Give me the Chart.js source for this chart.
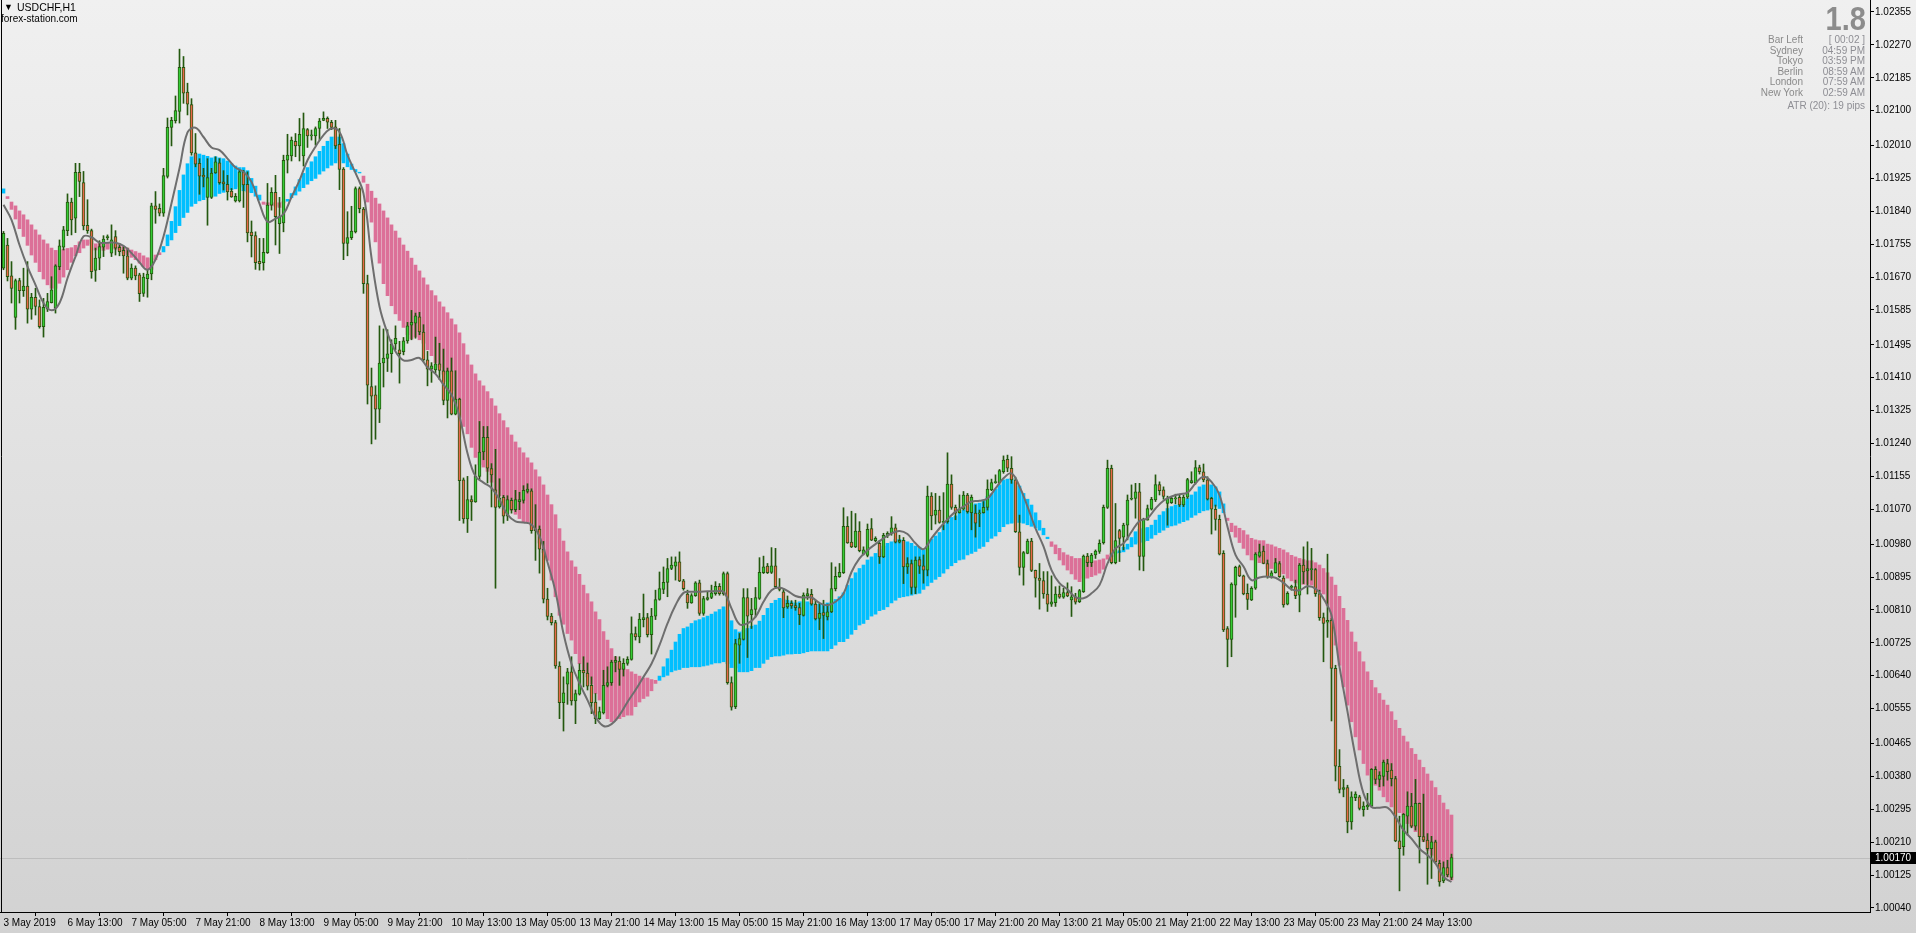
<!DOCTYPE html>
<html>
<head>
<meta charset="utf-8">
<title>USDCHF,H1</title>
<script src="https://cdn.jsdelivr.net/npm/chart.js@4.4.0/dist/chart.umd.min.js"></script>
<style>
  html, body { margin: 0; padding: 0; }
  body {
    width: 1916px; height: 933px; overflow: hidden; position: relative;
    background: linear-gradient(to bottom, #f0f0f0 0%, #d2d2d2 100%);
    font-family: "Liberation Sans", Arial, sans-serif;
  }
  #chart { position: absolute; left: 0; top: 0; }
  .t { position: absolute; font-size: 10px; line-height: 11px; white-space: nowrap; }
  .lbl { right: 113px; color: #8a8a8a; text-align: right; }
  .val { right: 51px; color: #8e8e94; text-align: right; }
</style>
</head>
<body>
<canvas id="chart" width="1916" height="933"></canvas>

<div class="t" style="left:4px;top:2px;color:#000;font-size:9px">&#9660;</div>
<div class="t" style="left:17px;top:2px;color:#000;font-size:10.5px">USDCHF,H1</div>
<div class="t" style="left:1px;top:13px;color:#000">forex-station.com</div>

<div class="t" style="right:50px;top:2px;font-size:33px;line-height:33px;font-weight:bold;color:#8c8c8c;transform:scaleX(0.88);transform-origin:right top">1.8</div>
<div class="t lbl" style="top:34px">Bar Left</div><div class="t val" style="top:34px">[ 00:02 ]</div>
<div class="t lbl" style="top:45px">Sydney</div><div class="t val" style="top:45px">04:59 PM</div>
<div class="t lbl" style="top:55px">Tokyo</div><div class="t val" style="top:55px">03:59 PM</div>
<div class="t lbl" style="top:66px">Berlin</div><div class="t val" style="top:66px">08:59 AM</div>
<div class="t lbl" style="top:76px">London</div><div class="t val" style="top:76px">07:59 AM</div>
<div class="t lbl" style="top:87px">New York</div><div class="t val" style="top:87px">02:59 AM</div>
<div class="t val" style="top:100px">ATR (20): 19 pips</div>

<script>
// all prices in pips above 1.00000, one entry per H1 bar (3 May 21:00 .. 24 May 23:00)
const opens = [
  169.3,175.3,167.3,156.6,166.1,163.5,164.7,158.7,161.8,159.4,
  154.2,158.7,160.4,159.0,169.7,174.7,179.0,186.4,182.2,194.1,
  191.4,180.4,179.0,168.7,171.9,174.7,177.2,173.2,177.5,174.7,
  173.9,172.5,166.7,169.3,167.6,162.8,166.6,167.8,185.4,184.8,
  183.5,193.0,205.7,207.4,209.8,221.2,214.8,211.6,199.1,196.4,
  193.3,187.6,187.6,193.9,196.5,191.6,191.0,189.2,186.7,186.7,
  194.2,191.0,178.6,177.7,171.1,170.7,173.3,185.6,188.9,180.8,
  181.0,197.2,198.3,202.1,200.9,198.3,205.1,203.5,203.5,205.4,
  207.5,208.0,207.0,205.8,201.3,194.9,175.7,177.2,178.7,189.9,
  184.6,165.3,138.7,136.6,132.9,144.8,146.0,147.2,149.7,148.2,
  147.7,150.5,154.6,155.1,156.7,152.8,145.6,143.2,143.0,144.6,
  142.8,135.1,142.8,131.6,135.5,114.6,104.5,109.5,108.9,115.5,
  121.8,125.6,117.5,112.0,107.6,110.1,105.2,109.3,106.9,109.0,
  109.3,111.6,111.8,101.9,101.9,96.7,83.8,79.4,77.7,66.5,
  57.0,61.8,65.0,57.5,59.2,65.4,64.7,61.5,57.2,52.9,
  54.4,61.5,62.2,67.4,67.8,65.6,67.2,68.2,74.9,74.0,
  78.5,79.0,74.6,79.4,83.7,86.3,88.1,91.7,92.3,93.4,
  88.5,85.1,82.8,84.7,88.0,80.1,83.7,84.2,85.2,87.1,
  85.2,90.4,62.2,56.0,71.9,73.4,84.2,79.8,81.1,84.0,
  90.6,92.3,90.7,92.4,86.8,85.7,81.8,82.7,82.1,81.6,
  79.6,84.6,85.0,82.5,78.8,80.3,79.2,80.5,86.5,89.6,
  90.6,102.6,98.5,97.3,101.4,95.4,95.1,102.0,98.9,98.2,
  94.7,100.1,100.8,102.2,98.5,99.0,92.1,93.0,86.8,94.0,
  92.4,91.3,110.4,105.5,106.8,103.6,103.8,113.5,107.5,106.1,
  107.0,110.7,106.1,106.0,105.8,106.1,107.5,112.0,113.9,113.9,
  116.7,119.9,117.6,114.6,101.2,92.0,95.6,98.8,91.2,89.2,
  88.6,85.1,82.5,82.9,85.1,84.3,85.5,83.6,84.4,83.1,
  85.7,94.9,93.2,95.2,96.1,98.4,107.5,117.6,93.2,101.5,
  99.8,102.9,109.6,109.8,111.5,94.8,104.2,107.0,109.4,113.4,
  112.0,108.5,108.7,109.7,110.1,108.1,110.1,113.9,113.9,117.8,
  116.7,114.6,109.8,107.0,104.4,95.6,76.2,73.4,87.4,92.2,
  89.8,85.3,83.6,86.6,94.9,96.2,93.0,89.6,90.6,93.0,
  89.2,82.5,86.8,87.0,84.8,92.6,91.1,91.4,91.4,85.2,
  79.0,77.8,78.3,65.9,40.6,34.6,35.1,26.2,32.5,32.7,
  29.4,30.1,30.3,39.8,37.2,38.0,41.3,39.6,37.4,21.3,
  19.8,27.7,30.3,25.1,31.0,22.4,21.5,19.3,21.1,15.5,
  11.0,14.4,11.9
];
const highs = [
  178.8,177.0,171.0,166.5,166.7,169.3,171.0,162.8,164.1,161.1,
  161.5,162.8,167.1,170.2,176.6,180.1,188.5,187.4,196.4,196.4,
  194.3,187.0,179.4,174.5,176.4,177.7,177.9,180.5,179.0,175.6,
  174.9,174.5,170.4,169.9,168.0,168.0,168.9,186.1,189.1,185.9,
  195.1,208.1,208.3,213.8,225.9,224.0,217.1,213.1,204.1,197.6,
  195.1,197.6,195.1,198.1,197.6,194.5,193.3,189.9,188.6,194.6,
  194.6,194.2,181.5,178.7,177.0,177.0,191.2,190.1,193.3,187.6,
  198.5,203.9,203.2,204.1,208.0,209.4,205.4,205.0,205.8,208.0,
  209.7,208.4,207.5,207.5,205.4,195.3,183.9,185.3,190.3,190.3,
  185.0,167.5,143.5,138.9,154.4,153.6,153.4,150.8,154.4,150.4,
  151.4,155.3,158.4,157.7,157.9,154.7,147.8,144.9,151.5,149.9,
  148.4,143.5,146.1,142.8,135.7,115.1,115.5,110.5,118.5,129.7,
  128.4,128.4,118.8,122.5,114.9,110.6,110.5,109.9,111.9,111.4,
  113.1,113.6,112.3,108.2,102.7,98.7,86.6,80.1,78.3,67.6,
  63.7,65.9,68.9,60.3,67.1,68.9,67.3,63.7,59.4,55.9,
  65.4,66.3,68.0,69.0,68.9,68.4,68.9,79.2,76.6,80.1,
  85.1,80.1,81.4,86.1,90.8,92.1,94.3,94.7,94.7,96.0,
  88.9,86.1,85.2,88.3,88.7,84.5,85.7,87.4,88.3,87.8,
  90.8,90.8,63.7,73.4,74.9,86.5,86.5,84.0,86.8,94.5,
  94.9,93.0,97.1,96.9,89.1,86.5,84.6,83.4,83.5,82.7,
  85.4,86.5,86.3,83.5,82.7,83.5,82.5,93.2,92.1,93.0,
  107.4,105.1,106.5,105.9,103.8,97.3,103.2,104.6,99.9,99.0,
  100.8,101.2,105.1,103.2,100.3,99.7,94.5,93.9,94.7,94.7,
  95.2,113.0,111.3,111.1,110.4,111.3,121.6,115.9,108.1,110.7,
  111.6,111.1,110.7,108.1,106.8,109.0,114.6,114.8,115.9,117.3,
  120.8,121.0,120.6,115.3,105.5,96.1,99.3,99.5,91.3,93.0,
  90.9,90.9,89.8,87.0,87.2,86.6,88.0,87.0,85.3,86.3,
  95.2,95.6,95.6,96.5,99.1,108.1,119.7,118.4,108.5,101.8,
  103.4,110.7,113.3,113.7,113.7,104.7,108.1,110.1,115.9,114.1,
  112.8,110.4,110.3,110.9,110.7,110.7,115.0,116.7,119.6,118.4,
  118.7,115.4,110.1,108.1,105.5,96.3,76.7,88.0,92.3,92.6,
  90.0,87.7,87.0,95.8,98.0,97.5,93.9,91.1,94.3,93.5,
  89.8,85.7,87.4,88.7,93.0,97.3,98.6,96.9,91.7,86.1,
  80.2,95.4,78.8,66.7,44.9,37.2,35.7,34.0,34.0,33.1,
  31.4,33.6,40.0,40.5,39.2,42.2,42.4,41.3,38.0,27.7,
  28.4,34.0,33.6,37.2,31.1,33.4,23.2,22.5,21.5,16.3,
  15.9,16.3,17.9
];
const lows = [
  168.9,166.0,160.3,153.5,160.3,162.0,155.1,156.1,157.2,153.8,
  151.5,158.1,160.3,157.7,168.9,174.0,177.7,177.9,178.5,187.8,
  179.2,178.3,166.7,165.9,168.9,172.3,176.6,172.3,172.7,172.5,
  168.0,166.3,166.3,166.3,160.7,162.0,161.8,166.3,180.9,182.8,
  182.7,192.6,200.9,206.8,206.8,211.9,208.9,198.5,195.5,188.4,
  190.3,180.4,187.3,193.8,191.0,189.5,186.9,187.6,186.4,186.4,
  185.0,176.1,172.2,169.0,168.8,168.8,173.1,184.3,175.3,173.1,
  178.7,193.9,197.0,198.1,197.0,195.7,200.5,202.4,201.1,202.4,
  207.4,205.4,205.1,200.2,189.6,171.5,172.5,176.7,178.4,183.6,
  162.8,134.2,123.9,125.1,129.4,138.6,142.6,142.4,148.2,139.6,
  146.9,149.9,150.8,151.2,152.1,145.2,138.9,139.8,142.2,140.5,
  134.0,130.6,131.4,131.4,104.1,103.4,101.0,104.1,108.8,114.6,
  119.8,113.8,107.6,86.6,107.3,103.4,104.1,106.0,106.4,106.9,
  108.6,111.2,100.8,93.8,90.5,82.8,78.4,77.1,65.9,52.9,
  49.7,56.6,56.4,51.6,59.0,61.1,60.3,54.2,51.6,52.7,
  54.1,61.1,61.5,65.0,61.5,63.9,66.7,68.0,73.2,72.5,
  76.6,74.0,69.6,78.5,83.5,85.2,84.4,91.4,88.7,88.3,
  86.1,81.4,82.7,84.5,79.6,79.6,83.5,83.9,84.8,84.8,
  84.8,61.8,55.1,55.5,67.2,73.2,68.7,76.2,79.2,83.7,
  90.4,90.4,90.4,86.5,85.9,79.0,81.4,81.4,80.9,77.2,
  79.4,83.7,82.2,78.4,75.9,73.6,78.4,80.3,85.9,89.4,
  90.4,98.2,97.1,97.1,96.0,95.2,94.7,98.9,98.6,93.0,
  94.5,99.7,100.3,98.3,98.3,87.8,90.4,85.1,85.2,90.4,
  87.9,89.8,101.7,103.2,103.4,101.7,103.4,107.0,104.3,106.0,
  106.8,106.0,101.7,99.8,102.5,106.0,106.8,111.8,113.7,113.5,
  116.3,116.7,113.7,101.0,90.0,87.4,95.5,90.9,84.3,81.2,
  84.0,80.6,81.9,81.9,84.0,84.0,84.4,79.3,82.5,82.9,
  85.5,92.2,92.2,94.3,95.6,98.0,107.2,92.9,92.9,93.5,
  96.5,99.1,109.4,104.7,91.3,91.1,104.2,106.8,109.0,110.7,
  109.6,102.9,108.5,108.4,107.7,107.7,109.8,113.7,113.5,116.1,
  114.1,109.4,100.6,101.6,95.2,75.4,66.3,68.9,79.1,89.6,
  84.9,81.1,83.4,86.3,94.6,92.9,89.2,89.2,90.5,89.4,
  81.7,82.3,86.1,83.9,80.5,87.8,85.1,88.7,84.5,78.3,
  67.6,73.9,52.3,36.8,33.7,32.7,23.4,24.3,31.7,29.3,
  27.7,29.4,30.1,36.1,35.3,35.5,37.0,35.5,21.1,8.4,
  17.6,22.8,24.7,24.1,15.6,21.1,10.1,11.6,15.5,9.6,
  10.5,12.0,11.3
];
const closes = [
  178.3,167.1,164.1,166.1,163.5,164.7,158.7,161.8,159.4,154.2,
  159.2,160.7,163.7,169.9,175.1,179.2,186.4,181.8,194.1,191.7,
  180.2,179.0,168.4,171.9,174.9,176.8,177.5,176.6,174.5,173.6,
  172.5,166.7,169.3,167.3,162.7,167.0,167.8,185.4,184.5,183.5,
  193.2,205.7,207.5,210.0,221.2,214.5,211.7,199.1,196.2,193.1,
  192.9,192.7,193.9,196.8,191.4,191.1,189.0,187.7,187.9,194.2,
  190.8,178.4,177.7,170.7,170.5,173.4,185.6,188.9,182.6,182.6,
  197.2,198.5,202.4,200.9,203.9,205.4,203.5,203.7,205.4,207.3,
  208.0,207.0,205.7,200.9,194.8,175.7,177.2,178.9,189.9,184.7,
  165.3,139.1,136.2,132.9,144.8,146.1,147.2,149.7,151.2,147.2,
  150.5,154.4,155.3,157.0,152.8,145.6,143.2,144.1,144.6,142.9,
  135.1,142.8,131.6,135.5,114.4,104.5,109.5,108.9,115.5,121.8,
  125.6,117.6,115.9,107.5,109.9,105.2,109.5,106.9,109.5,109.5,
  111.9,112.2,101.5,101.5,96.7,83.8,79.3,77.7,66.5,57.0,
  59.6,65.0,57.5,59.4,65.4,64.7,61.3,57.0,52.9,54.7,
  61.5,62.2,67.5,68.0,65.6,67.2,68.2,74.9,74.0,78.6,
  79.0,74.6,79.4,83.7,86.5,88.1,91.7,92.6,93.4,88.5,
  86.5,82.8,84.7,88.0,80.1,83.9,84.2,85.4,87.1,85.2,
  90.4,62.2,55.9,72.3,73.6,84.2,79.4,81.1,84.2,90.7,
  92.1,90.6,92.4,87.0,86.3,81.5,82.7,82.0,81.6,79.8,
  84.8,85.2,82.5,78.7,80.1,79.6,80.5,86.5,89.7,90.7,
  102.6,98.3,97.3,101.4,96.3,96.5,101.8,99.0,99.5,94.7,
  100.3,100.8,102.2,98.5,99.0,92.1,93.0,86.8,93.9,92.3,
  91.3,110.4,105.3,106.8,103.6,103.8,113.5,107.5,106.0,107.0,
  110.7,106.4,110.1,103.4,106.1,107.5,112.2,113.9,114.1,117.0,
  119.7,117.6,114.6,101.2,92.0,95.8,98.8,91.2,89.2,88.6,
  85.1,82.5,83.1,85.1,84.3,85.5,84.6,84.4,83.0,86.0,
  94.9,93.2,95.2,96.2,98.2,107.5,117.6,93.2,98.9,99.5,
  102.9,109.4,109.8,111.5,94.8,104.4,107.2,109.6,113.4,111.8,
  110.3,109.8,109.8,109.8,108.1,110.1,114.7,114.4,117.8,116.7,
  114.6,109.6,107.0,104.4,95.4,75.8,73.4,87.7,92.0,89.8,
  85.1,83.7,86.6,95.4,96.0,93.0,89.6,90.6,93.2,89.6,
  82.3,85.3,87.1,84.7,92.6,90.8,91.7,91.7,85.2,79.0,
  77.5,78.3,65.9,40.6,34.6,35.1,26.2,32.7,33.4,29.7,
  30.3,30.5,39.8,37.2,38.3,41.7,39.2,37.4,21.3,19.3,
  28.2,30.3,25.1,31.0,22.4,21.5,19.3,21.1,15.9,10.7,
  14.4,12.5,17.0
];

// ribbon indicator: fast and slow line, one entry per bar (blue when fast is above slow)
const cloudFast = [
  189.8,187.3,184.5,182.0,179.5,177.5,175.2,172.7,170.8,168.4,
  166.5,165.0,164.1,164.1,165.4,167.0,168.9,170.8,172.5,173.3,
  174.5,175.2,175.6,174.0,174.5,173.9,174.2,174.4,174.2,173.9,
  173.2,172.7,172.1,171.5,170.6,169.7,168.9,169.0,171.5,172.8,
  174.9,177.9,181.4,185.2,189.4,193.4,196.3,198.1,198.8,198.8,
  198.5,198.2,197.8,198.1,197.8,197.6,197.0,196.3,195.7,195.3,
  195.3,194.5,192.5,190.5,188.2,185.8,185.6,185.5,185.3,185.0,
  186.2,187.1,188.6,190.3,192.2,193.8,195.3,196.8,198.1,199.5,
  200.8,202.1,203.2,203.2,203.2,201.5,198.8,196.2,194.8,194.1,
  191.5,186.4,181.2,176.1,170.6,165.3,162.2,159.6,157.5,155.8,
  154.0,152.1,151.0,151.5,150.8,149.9,148.2,146.7,144.9,143.7,
  141.9,140.0,137.7,135.3,130.8,128.4,126.5,123.0,120.4,118.5,
  117.9,116.8,114.0,112.0,110.5,109.3,107.2,106.7,105.7,104.6,
  103.8,103.6,102.7,101.5,98.3,95.8,93.8,88.7,84.4,79.6,
  77.3,74.9,73.2,69.7,67.1,65.4,63.7,61.8,59.4,57.7,
  55.1,52.9,52.1,52.5,52.9,53.4,53.8,53.8,56.0,57.2,
  58.1,58.7,60.1,62.0,63.9,66.3,68.4,70.6,72.7,74.7,
  76.2,76.6,77.5,78.2,78.5,79.0,79.4,79.9,80.5,81.1,
  81.8,80.9,78.2,75.9,75.3,75.8,76.2,76.8,77.1,78.1,
  79.6,81.4,82.7,83.5,84.0,83.7,83.5,83.1,82.8,83.1,
  83.1,83.1,82.7,82.5,82.5,82.5,82.8,83.1,83.7,84.4,
  85.4,87.4,89.1,90.6,91.7,92.6,93.9,94.7,95.6,96.6,
  97.5,98.2,98.6,99.2,99.2,99.0,98.6,98.2,97.5,97.2,
  96.5,96.9,99.3,100.1,101.0,103.0,104.2,104.9,105.3,106.1,
  106.8,107.5,108.1,108.4,108.6,109.4,110.3,111.0,112.2,113.3,
  114.6,114.8,115.0,113.9,113.0,111.1,109.6,108.1,106.1,104.1,
  102.1,99.8,97.4,95.5,93.9,92.6,91.3,90.3,88.9,88.3,
  89.2,89.2,89.6,90.0,90.5,91.5,94.1,94.8,96.0,96.3,
  97.2,98.0,99.7,101.2,101.8,102.1,102.3,102.9,104.2,105.5,
  106.4,107.2,107.7,108.1,108.1,109.0,109.8,110.7,111.5,112.8,
  113.3,113.3,113.3,112.8,111.5,108.4,104.1,101.2,99.8,98.4,
  96.9,95.2,93.9,93.9,93.2,93.0,91.7,91.7,91.3,90.9,
  90.3,89.2,88.5,88.0,87.6,87.6,87.6,87.4,86.5,85.7,
  85.1,82.2,77.5,71.9,66.7,61.1,56.4,52.1,48.2,44.8,
  41.3,38.3,37.0,35.7,34.4,32.7,31.4,30.1,28.8,28.6,
  27.5,25.8,24.9,23.7,22.4,21.1,18.9,17.6,16.3,14.6,
  12.9,12.0,11.2
];
const cloudSlow = [
  188.7,187.8,186.4,185.4,184.1,183.1,181.8,180.5,179.2,177.9,
  176.6,175.6,174.5,173.9,173.9,174.2,174.4,174.6,175.2,176.1,
  176.6,176.6,176.8,175.6,175.8,175.6,175.8,175.6,175.4,175.1,
  174.9,174.5,174.0,173.6,173.2,172.5,172.0,171.8,172.7,173.3,
  173.5,175.1,176.6,178.5,180.3,182.4,183.7,185.3,186.0,186.7,
  187.0,187.7,187.9,187.9,188.6,188.9,189.5,189.6,189.8,190.3,
  189.3,189.0,188.8,187.9,186.9,186.4,186.2,186.2,186.2,186.2,
  186.5,186.6,187.5,188.2,189.2,190.1,191.0,191.9,192.5,193.6,
  194.4,195.2,195.9,196.5,197.2,196.5,195.5,194.8,194.2,193.9,
  193.1,191.0,189.2,187.4,185.9,184.1,182.3,180.5,178.9,177.1,
  175.3,173.7,171.9,170.1,168.6,166.8,165.0,163.5,162.2,160.6,
  159.3,157.8,156.2,154.7,152.6,149.8,146.9,144.3,142.0,140.2,
  138.9,137.4,135.6,133.7,131.7,129.9,128.1,126.2,124.4,122.9,
  121.6,120.3,119.0,117.2,115.4,113.3,110.7,108.2,105.6,102.0,
  98.8,96.0,93.7,92.1,90.2,87.4,85.2,83.1,80.5,78.5,
  75.4,73.2,71.0,68.9,67.1,66.3,65.6,65.0,64.4,63.9,
  63.4,63.4,63.0,62.8,62.8,63.7,64.1,65.0,65.4,65.6,
  66.1,66.1,66.3,66.3,66.3,66.5,66.7,67.0,67.3,67.3,
  67.6,67.1,66.1,66.0,65.0,65.0,65.0,65.3,66.1,66.1,
  67.2,68.2,68.9,69.1,69.1,69.3,69.6,69.6,69.7,69.7,
  69.9,70.2,70.4,70.4,70.4,70.4,70.4,71.0,71.9,72.8,
  72.8,73.6,74.7,75.9,77.1,77.5,78.5,79.4,79.9,80.8,
  81.1,81.8,82.8,83.5,84.2,84.4,84.6,84.8,85.1,85.3,
  86.3,87.2,88.1,88.9,89.6,90.5,91.6,92.4,93.2,93.9,
  94.1,95.2,95.6,96.1,96.9,97.4,98.6,99.5,100.1,101.2,
  102.5,103.2,103.4,103.6,103.6,103.4,103.0,102.6,102.2,101.6,
  100.4,99.4,98.6,97.8,96.9,95.8,95.2,94.8,94.3,94.3,
  93.9,93.7,93.7,93.7,93.9,94.2,95.2,95.6,95.6,95.8,
  96.0,96.7,97.3,98.0,98.4,98.6,98.9,99.5,100.4,101.0,
  101.6,102.3,102.7,102.9,103.4,103.8,104.2,104.9,105.5,106.1,
  106.6,106.8,107.2,107.8,107.2,106.1,104.7,103.4,102.7,102.1,
  101.5,100.4,99.5,99.1,98.9,98.9,98.0,97.8,97.3,96.9,
  96.5,95.8,95.1,94.7,94.3,94.0,93.7,93.7,93.2,92.6,
  91.7,90.6,89.5,87.4,84.5,81.4,78.3,75.3,72.7,70.2,
  67.6,65.0,62.8,60.9,59.4,57.7,56.4,54.7,52.5,50.4,
  48.4,46.9,45.2,43.7,42.2,40.3,38.6,36.8,35.1,33.1,
  31.1,29.4,28.0
];

// smoothed average, read every second bar
const maStep = 2;
const maValues = [
  185.7,181.8,175.3,169.7,165.0,160.3,158.4,160.3,166.7,172.3,
  177.5,177.3,175.9,175.9,175.9,175.1,173.2,170.8,168.9,171.5,
  177.5,186.1,195.1,204.4,205.6,203.2,200.5,199.8,197.6,195.3,
  194.2,191.6,186.0,181.3,182.1,183.3,187.7,192.0,197.2,200.7,
  203.7,205.4,204.5,198.5,193.9,188.6,172.0,159.4,152.5,147.8,
  145.5,145.6,146.1,143.7,142.0,139.2,136.6,131.0,121.5,115.5,
  113.9,112.5,109.5,105.6,103.9,103.6,103.0,100.0,93.3,85.7,
  74.9,67.1,62.0,57.7,53.4,51.0,51.5,53.8,57.2,60.3,
  63.7,67.1,71.9,77.5,82.2,85.4,85.7,85.7,85.8,85.8,
  85.7,81.4,77.3,77.5,79.2,83.1,86.1,86.8,85.9,84.6,
  84.2,84.2,82.8,82.2,83.1,85.2,90.8,94.3,96.4,98.0,
  99.5,100.8,101.4,100.6,98.2,96.7,99.5,102.1,104.4,106.4,
  107.7,109.0,109.2,109.8,112.4,115.0,116.3,112.9,107.7,102.1,
  97.4,91.3,87.9,86.3,84.3,84.0,85.3,87.4,93.0,96.9,
  98.2,101.2,104.0,104.7,107.2,109.2,110.3,110.9,111.3,113.7,
  115.4,114.1,110.7,102.5,95.2,92.2,88.7,89.4,89.6,89.3,
  88.0,86.3,86.1,87.1,86.5,83.9,79.6,66.3,54.7,43.0,
  33.6,30.1,29.9,29.9,27.5,24.1,21.9,19.3,17.6,15.5,
  12.0,10.7
];

// axis labels
const yTickValues = [1.02355,1.02270,1.02185,1.02100,1.02010,1.01925,1.01840,1.01755,1.01670,1.01585,
  1.01495,1.01410,1.01325,1.01240,1.01155,1.01070,1.00980,1.00895,1.00810,1.00725,
  1.00640,1.00555,1.00465,1.00380,1.00295,1.00210,1.00125,1.00040];
const xTickBars = [0,16,32,48,64,80,96,112,128,144,160,176,192,208,224,240,256,272,288,304,320,336,352];
const xTickLabels = ['3 May 2019','6 May 13:00','7 May 05:00','7 May 21:00','8 May 13:00','9 May 05:00',
  '9 May 21:00','10 May 13:00','13 May 05:00','13 May 21:00','14 May 13:00','15 May 05:00',
  '15 May 21:00','16 May 13:00','17 May 05:00','17 May 21:00','20 May 13:00','21 May 05:00',
  '21 May 21:00','22 May 13:00','23 May 05:00','23 May 21:00','24 May 13:00'];

const toPrice = p => 1 + p / 10000;

const OUTLINE = '#24580f';
const BULL = '#35cc35';
const BEAR = '#e8684a';
const CLOUD_UP = '#00bfff';
const CLOUD_DN = '#dc7098';

const bodyData = opens.map((o, i) => ({ x: i, y: [toPrice(o), toPrice(closes[i])] }));
const wickData = highs.map((h, i) => ({ x: i, y: [toPrice(lows[i]), toPrice(h)] }));
const cloudData = cloudFast.map((a, i) => ({ x: i, y: [toPrice(a), toPrice(cloudSlow[i])] }));
const maData = maValues.map((v, k) => ({ x: k * maStep, y: toPrice(v) }));

const frame = {
  id: 'frame',
  afterDraw(chart) {
    const { ctx, chartArea: a } = chart;
    ctx.save();
    ctx.strokeStyle = '#000';
    ctx.lineWidth = 1;
    ctx.beginPath();
    ctx.moveTo(1.5, a.top);
    ctx.lineTo(1.5, a.bottom + 0.5);
    ctx.stroke();
    ctx.restore();
  }
};

const bidLine = {
  id: 'bidLine',
  beforeDatasetsDraw(chart) {
    const { ctx, chartArea: a, scales } = chart;
    const y = Math.round(scales.y.getPixelForValue(toPrice(closes[closes.length - 1]))) + 0.5;
    ctx.save();
    ctx.strokeStyle = '#bdbdbd';
    ctx.lineWidth = 1;
    ctx.beginPath();
    ctx.moveTo(a.left, y);
    ctx.lineTo(a.right, y);
    ctx.stroke();
    ctx.restore();
  },
  afterDraw(chart) {
    const { ctx, chartArea: a, scales } = chart;
    const last = toPrice(closes[closes.length - 1]);
    const y = Math.round(scales.y.getPixelForValue(last));
    ctx.save();
    ctx.fillStyle = '#000';
    ctx.fillRect(a.right + 1, y - 6, 45, 12);
    ctx.fillStyle = '#fff';
    ctx.font = '10px "Liberation Sans", Arial, sans-serif';
    ctx.textBaseline = 'middle';
    ctx.fillText(last.toFixed(5), a.right + 5, y + 0.5);
    ctx.restore();
  }
};

Chart.defaults.font.family = '"Liberation Sans", Arial, sans-serif';

new Chart(document.getElementById('chart').getContext('2d'), {
  type: 'bar',
  data: {
    datasets: [
      {
        type: 'line', data: maData, borderColor: '#6e6e6e', borderWidth: 2,
        pointRadius: 0, tension: 0.4, order: 1
      },
      {
        data: bodyData, order: 2, barThickness: 3, minBarLength: 1,
        backgroundColor: bodyData.map((d, i) => closes[i] >= opens[i] ? BULL : BEAR),
        borderColor: OUTLINE, borderWidth: 1, borderSkipped: false
      },
      {
        data: wickData, order: 3, barThickness: 1, backgroundColor: OUTLINE, borderWidth: 0
      },
      {
        data: cloudData, order: 4, barThickness: 3, borderWidth: 0,
        backgroundColor: cloudFast.map((a, i) => a >= cloudSlow[i] ? CLOUD_UP : CLOUD_DN)
      }
    ]
  },
  options: {
    responsive: false,
    animation: false,
    events: [],
    devicePixelRatio: 1,
    layout: { padding: { left: 0, right: 0, top: 0, bottom: 0 } },
    datasets: { bar: { grouped: false } },
    plugins: { legend: { display: false }, tooltip: { enabled: false } },
    scales: {
      x: {
        type: 'linear', position: 'bottom', offset: false,
        min: -0.875, max: 466.625,
        afterBuildTicks: s => { s.ticks = xTickBars.map(v => ({ value: v })); },
        afterFit: s => { s.height = 21; s.paddingLeft = 0; s.paddingRight = 0; },
        grid: { drawOnChartArea: false, tickLength: 4, color: '#000' },
        border: { display: true, color: '#000', width: 1 },
        ticks: {
          autoSkip: false, maxRotation: 0, minRotation: 0, align: 'start', padding: 1,
          color: '#000', font: { size: 10 },
          callback: (v, idx) => xTickLabels[idx]
        }
      },
      y: {
        position: 'right', beginAtZero: false,
        min: toPrice(2.94), max: toPrice(238.6),
        afterBuildTicks: s => { s.ticks = yTickValues.map(v => ({ value: v })); },
        afterFit: s => { s.width = 46; s.paddingTop = 0; s.paddingBottom = 0; },
        grid: { drawOnChartArea: false, tickLength: 4, color: '#000' },
        border: { display: true, color: '#000', width: 1 },
        ticks: {
          autoSkip: false, padding: 1, color: '#000', font: { size: 10 },
          callback: v => v.toFixed(5)
        }
      }
    }
  },
  plugins: [frame, bidLine]
});
</script>
</body>
</html>
